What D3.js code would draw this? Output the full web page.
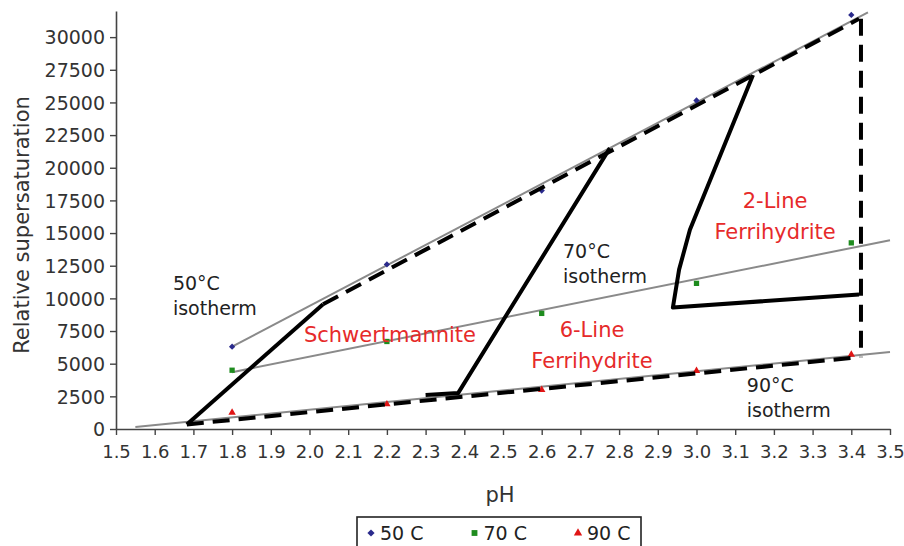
<!DOCTYPE html>
<html lang="en">
<head>
<meta charset="UTF-8">
<script src="https://d3js.org/d3.v7.min.js"></script>
<title>Supersaturation</title>
<style>
  body { margin: 0; background: #fff; }
  text { font-family: "DejaVu Sans", sans-serif; }
</style>
</head>
<body>
<svg width="904" height="546" id="chart"></svg>
<script>
// measured points, pH vs relative supersaturation
const phPoints = [1.8, 2.2, 2.6, 3.0, 3.4];
const sat50 = [6300, 12600, 18250, 25150, 31700];
const sat70 = [4500, 6700, 8850, 11150, 14250];
const sat90 = [1250, 1900, 3000, 4450, 5700];

// grey isotherm trend lines (end points)
const trend50 = [[1.8, 6300], [3.443, 31900]];
const trend70 = [[1.8, 4350], [3.5, 14450]];
const trend90 = [[1.55, 150], [3.5, 5900]];

// thick phase boundaries
const boundSchw = [[1.683, 350], [2.035, 9550]];
const bound6line = [[2.30, 2600], [2.384, 2750], [2.776, 21500]];
const bound2line = [[3.146, 27100], [2.983, 15250], [2.955, 12200], [2.939, 9300], [3.42, 10300]];
const dashTop = [[2.035, 9550], [3.42, 31400]];
const dashBottom = [[1.683, 350], [3.42, 5500]];
const dashRight = [[3.425, 31400], [3.425, 5500]];

const xTicks = d3.range(15, 36).map(d => d / 10);
const yTicks = d3.range(0, 30001, 2500);

const svg = d3.select("#chart");
const x = d3.scaleLinear().domain([1.5, 3.5]).range([116, 890]);
const y = d3.scaleLinear().domain([0, 32000]).range([429, 11]);
const line = d3.line().x(d => x(d[0])).y(d => y(d[1]));

// axes
const gx = svg.append("g").attr("transform", "translate(0,429)")
    .call(d3.axisBottom(x).tickValues(xTicks).tickFormat(d3.format(".1f")).tickSize(6).tickSizeOuter(0));
const gy = svg.append("g").attr("transform", "translate(116,0)")
    .call(d3.axisLeft(y).tickValues(yTicks).tickFormat(d => d).tickSize(6).tickSizeOuter(0));
[gx, gy].forEach(g => {
    g.select(".domain").attr("stroke", "#444").attr("stroke-width", 1.6);
    g.selectAll(".tick line").attr("stroke", "#444").attr("stroke-width", 1.4);
    g.selectAll(".tick text").attr("font-family", "DejaVu Sans").attr("font-size", 19).attr("fill", "#333");
});
gx.selectAll(".tick text").attr("font-size", 18).attr("dy", "1.1em");
gy.selectAll(".tick text").attr("x", -11).attr("dy", "0.36em");

svg.append("text").attr("x", 500).attr("y", 502).attr("text-anchor", "middle")
    .attr("font-size", 21).attr("fill", "#333").text("pH");
svg.append("text").attr("transform", "translate(29,225) rotate(-90)").attr("text-anchor", "middle")
    .attr("font-size", 21).attr("fill", "#333").text("Relative supersaturation");

// grey isotherms
[trend50, trend70, trend90].forEach(t => {
    svg.append("path").attr("d", line(t)).attr("fill", "none")
        .attr("stroke", "#8a8a8a").attr("stroke-width", 2);
});

// markers
const series = [
    { vals: sat50, color: "#2a2a8c", sym: d3.symbolSquare, size: 20, rot: 45 },
    { vals: sat70, color: "#1e8c1e", sym: d3.symbolSquare, size: 28, rot: 0 },
    { vals: sat90, color: "#e01515", sym: d3.symbolTriangle, size: 24, rot: 0 }
];
series.forEach(s => {
    svg.append("g").selectAll("path").data(s.vals).join("path")
        .attr("transform", (d, i) => `translate(${x(phPoints[i])},${y(d)}) rotate(${s.rot})`)
        .attr("d", d3.symbol(s.sym, s.size)())
        .attr("fill", s.color);
});

// phase boundaries
[boundSchw, bound6line, bound2line].forEach(b => {
    svg.append("path").attr("d", line(b)).attr("fill", "none")
        .attr("stroke", "#000").attr("stroke-width", 4).attr("stroke-linejoin", "round");
});
[dashTop, dashBottom, dashRight].forEach(b => {
    svg.append("path").attr("d", line(b)).attr("fill", "none")
        .attr("stroke", "#000").attr("stroke-width", 4).attr("stroke-dasharray", "17,9");
});

// annotations
const isoLabels = [
    { t: ["50°C", "isotherm"], p: [1.647, 10640] },
    { t: ["70°C", "isotherm"], p: [2.655, 13090] },
    { t: ["90°C", "isotherm"], p: [3.13, 2830] }
];
isoLabels.forEach(l => {
    const tx = svg.append("text").attr("x", x(l.p[0])).attr("y", y(l.p[1]))
        .attr("font-size", 19).attr("fill", "#222");
    l.t.forEach((s, i) => tx.append("tspan").attr("x", x(l.p[0])).attr("dy", i ? 25 : 0).text(s));
});

const phaseLabels = [
    { t: ["Schwertmannite"], p: [2.208, 6660] },
    { t: ["6-Line", "Ferrihydrite"], p: [2.73, 7040] },
    { t: ["2-Line", "Ferrihydrite"], p: [3.203, 16910] }
];
phaseLabels.forEach(l => {
    const tx = svg.append("text").attr("x", x(l.p[0])).attr("y", y(l.p[1]))
        .attr("font-size", 21).attr("fill", "#e62a2a").attr("text-anchor", "middle");
    l.t.forEach((s, i) => tx.append("tspan").attr("x", x(l.p[0])).attr("dy", i ? 31 : 0).text(s));
});

// legend
const legendNames = ["50 C", "70 C", "90 C"];
const lg = svg.append("g");
lg.append("rect").attr("x", 357).attr("y", 517).attr("width", 284).attr("height", 40)
    .attr("fill", "none").attr("stroke", "#222").attr("stroke-width", 1.6);
series.forEach((s, i) => {
    const lx = 371 + i * 103.5;
    lg.append("path").attr("transform", `translate(${lx},533) rotate(${s.rot})`)
        .attr("d", d3.symbol(s.sym, s.size + 6)()).attr("fill", s.color);
    lg.append("text").attr("x", lx + 9).attr("y", 540).attr("font-size", 19)
        .attr("fill", "#222").text(legendNames[i]);
});
</script>
</body>
</html>
